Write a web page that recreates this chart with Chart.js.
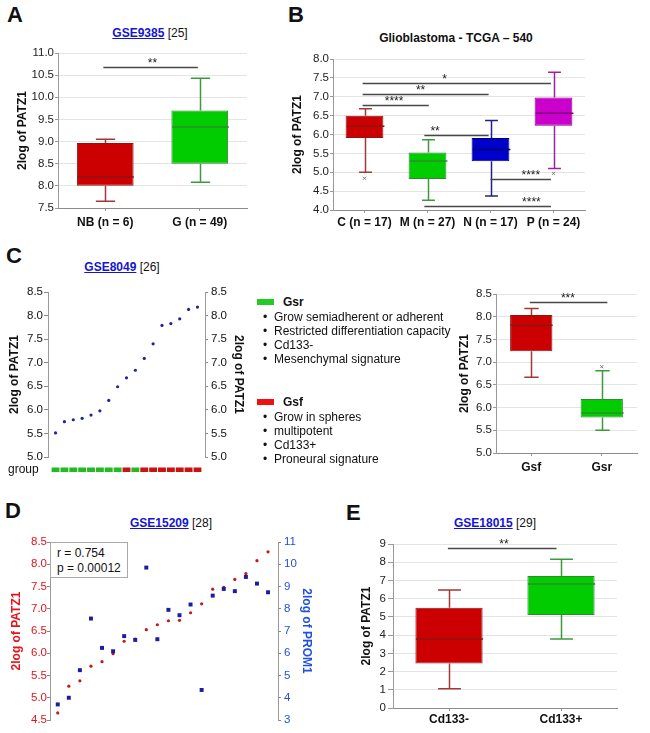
<!DOCTYPE html>
<html>
<head>
<meta charset="utf-8">
<script src="https://cdn.jsdelivr.net/npm/chart.js@4.4.0/dist/chart.umd.min.js"></script>
<style>
  body { margin: 0; background: #fff; font-family: "Liberation Sans", Arial, Helvetica, sans-serif; color: #111; }
  #fig { position: relative; width: 650px; height: 733px; overflow: hidden; }
  #fig canvas, .abs { position: absolute; }
  .letter { font-weight: bold; font-size: 22px; line-height: 22px; }
  .ttl { font-size: 12px; line-height: 14px; white-space: nowrap; transform: translate(-50%, -50%); }
  .ttl a { color: #1414d4; font-weight: bold; text-decoration: underline; }
  .txt { font-size: 12px; line-height: 14px; white-space: nowrap; transform: translateY(-50%); }
  .swatch { height: 6px; width: 17px; }
  .stats { border: 1px solid #aaa; background: #fff; font-size: 12px; line-height: 14.5px; padding: 3px 6px; box-sizing: border-box; }
</style>
</head>
<body>
<div id="fig">
  <div class="abs letter" style="left:7px;top:4px">A</div>
  <div class="abs letter" style="left:288px;top:4px">B</div>
  <div class="abs letter" style="left:6px;top:245px">C</div>
  <div class="abs letter" style="left:5px;top:500px">D</div>
  <div class="abs letter" style="left:346px;top:502px">E</div>

  <div class="abs ttl" style="left:150px;top:33px"><a>GSE9385</a> [25]</div>
  <div class="abs ttl" style="left:456px;top:38px;font-weight:bold">Glioblastoma - TCGA – 540</div>
  <div class="abs ttl" style="left:122px;top:267px"><a>GSE8049</a> [26]</div>
  <div class="abs ttl" style="left:171px;top:523px"><a>GSE15209</a> [28]</div>
  <div class="abs ttl" style="left:495px;top:523px"><a>GSE18015</a> [29]</div>

  <canvas id="chartA" width="262" height="190" style="left:0;top:44px"></canvas>
  <canvas id="chartB" width="315" height="185" style="left:285px;top:50px"></canvas>
  <canvas id="chartC" width="252" height="200" style="left:0;top:282px"></canvas>
  <canvas id="chartC2" width="210" height="195" style="left:440px;top:285px"></canvas>
  <canvas id="chartD" width="330" height="200" style="left:0;top:532px"></canvas>
  <canvas id="chartE" width="300" height="198" style="left:340px;top:535px"></canvas>

  <div class="abs txt" style="left:8px;top:469px">group</div>

  <div class="abs swatch" style="left:257px;top:299px;background:#22cc22"></div>
  <div class="abs txt" style="left:283px;top:302px;font-weight:bold">Gsr</div>
  <div class="abs txt" style="left:263px;top:317px">•</div><div class="abs txt" style="left:274px;top:317px">Grow semiadherent or adherent</div>
  <div class="abs txt" style="left:263px;top:331px">•</div><div class="abs txt" style="left:274px;top:331px">Restricted differentiation capacity</div>
  <div class="abs txt" style="left:263px;top:345px">•</div><div class="abs txt" style="left:274px;top:345px">Cd133-</div>
  <div class="abs txt" style="left:263px;top:359px">•</div><div class="abs txt" style="left:274px;top:359px">Mesenchymal signature</div>

  <div class="abs swatch" style="left:257px;top:399px;background:#ee1111"></div>
  <div class="abs txt" style="left:283px;top:402px;font-weight:bold">Gsf</div>
  <div class="abs txt" style="left:263px;top:417px">•</div><div class="abs txt" style="left:274px;top:417px">Grow in spheres</div>
  <div class="abs txt" style="left:263px;top:431px">•</div><div class="abs txt" style="left:274px;top:431px">multipotent</div>
  <div class="abs txt" style="left:263px;top:445px">•</div><div class="abs txt" style="left:274px;top:445px">Cd133+</div>
  <div class="abs txt" style="left:263px;top:459px">•</div><div class="abs txt" style="left:274px;top:459px">Proneural signature</div>

  <div class="abs stats" style="left:50px;top:542px;width:78px;height:36px">r = 0.754<br>p = 0.00012</div>
</div>

<script>
Chart.defaults.font.family = '"Liberation Sans", Arial, Helvetica, sans-serif';
Chart.defaults.color = "#111";
Chart.defaults.animation = false;

// A: GSE9385
const aLabels = ["NB (n = 6)", "G (n = 49)"];
const aMin = [7.65, 8.08];
const aQ1 = [8.0, 8.5];
const aMed = [8.2, 9.33];
const aQ3 = [8.97, 9.7];
const aMax = [9.05, 10.43];
const aColors = ["red", "green"];
const aSigFrom = [-0.02];
const aSigTo = [0.98];
const aSigY = [10.68];
const aSigText = ["**"];
const aSigAt = [0.5];

// B: Glioblastoma TCGA subtypes
const bLabels = ["C (n = 17)", "M (n = 27)", "N (n = 17)", "P (n = 24)"];
const bMin = [5.0, 4.26, 4.37, 5.1];
const bQ1 = [5.91, 4.82, 5.29, 6.23];
const bMed = [6.22, 5.3, 5.6, 6.56];
const bQ3 = [6.5, 5.52, 5.91, 6.98];
const bMax = [6.68, 5.86, 6.37, 7.65];
const bColors = ["red", "green", "blue", "magenta"];
const bOutIdx = [0, 3];
const bOutVal = [4.84, 4.97];
const bSigFrom = [-0.03, -0.03, -0.03, 0.95, 2.0, 0.95];
const bSigTo = [2.96, 1.97, 1.02, 1.97, 2.96, 2.96];
const bSigY = [7.36, 7.07, 6.78, 5.99, 4.82, 4.11];
const bSigText = ["*", "**", "****", "**", "****", "****"];
const bSigAt = [1.27, 0.89, 0.47, 1.12, 2.64, 2.65];

// C: GSE8049 samples sorted by PATZ1
const cPatz = [5.51, 5.75, 5.79, 5.82, 5.89, 5.98, 6.2, 6.49, 6.68, 6.84, 7.09, 7.4, 7.79, 7.83, 7.93, 8.13, 8.18];
const cGroup = ["Gsr", "Gsr", "Gsr", "Gsr", "Gsr", "Gsr", "Gsr", "Gsr", "Gsf", "Gsr", "Gsf", "Gsf", "Gsf", "Gsf", "Gsf", "Gsf", "Gsf"];

// C right: box plot Gsf vs Gsr
const c2Labels = ["Gsf", "Gsr"];
const c2Min = [6.67, 5.5];
const c2Q1 = [7.24, 5.78];
const c2Med = [7.81, 5.88];
const c2Q3 = [8.04, 6.19];
const c2Max = [8.18, 6.81];
const c2Colors = ["red", "green"];
const c2OutIdx = [1];
const c2OutVal = [6.9];
const c2SigFrom = [-0.02];
const c2SigTo = [1.08];
const c2SigY = [8.33];
const c2SigText = ["***"];
const c2SigAt = [0.52];

// D: GSE15209 PATZ1 vs PROM1
const dPatz = [4.66, 5.26, 5.38, 5.71, 5.81, 5.99, 6.27, 6.32, 6.53, 6.64, 6.73, 6.74, 6.91, 7.11, 7.44, 7.48, 7.66, 7.79, 8.08, 8.28];
const dProm = [3.7, 4.0, 5.24, 7.56, 6.24, 6.09, 6.77, 6.6, 9.85, 6.63, 7.95, 7.71, 8.19, 4.35, 8.59, 8.89, 8.79, 9.43, 9.13, 8.74];

// E: GSE18015
const eLabels = ["Cd133-", "Cd133+"];
const eMin = [1.06, 3.78];
const eQ1 = [2.44, 5.11];
const eMed = [3.78, 6.8];
const eQ3 = [5.5, 7.24];
const eMax = [6.47, 8.16];
const eColors = ["red", "green"];
const eSigFrom = [-0.01];
const eSigTo = [0.96];
const eSigY = [8.78];
const eSigText = ["**"];
const eSigAt = [0.49];

const palette = {
    red: { fill: "#cc0000", line: "#8e1414", whisker: "#a23838" },
    green: { fill: "#00cc00", line: "#2e8c2e", whisker: "#3c9a3c" },
    blue: { fill: "#0000cc", line: "#000072", whisker: "#20208a" },
    magenta: { fill: "#cc00cc", line: "#7e007e", whisker: "#a020a0" }
};

function boxExtras(o) {
    return {
        id: "boxExtras",
        afterDatasetsDraw(chart) {
            const { ctx, scales: { x, y } } = chart;
            const bars = chart.getDatasetMeta(0).data;
            ctx.save();
            o.labels.forEach((_, i) => {
                const cx = Math.round(x.getPixelForValue(i)) + 0.5;
                const w = bars[i].width;
                const cap = w * 0.17;
                const pal = palette[o.colors[i]];
                const yQ3 = y.getPixelForValue(o.q3[i]), yHi = y.getPixelForValue(o.max[i]);
                const yQ1 = y.getPixelForValue(o.q1[i]), yLo = y.getPixelForValue(o.min[i]);
                ctx.strokeStyle = pal.whisker;
                ctx.lineWidth = 1.5;
                ctx.beginPath();
                ctx.moveTo(cx, yQ3); ctx.lineTo(cx, yHi);
                ctx.moveTo(cx - cap, yHi); ctx.lineTo(cx + cap, yHi);
                ctx.moveTo(cx, yQ1); ctx.lineTo(cx, yLo);
                ctx.moveTo(cx - cap, yLo); ctx.lineTo(cx + cap, yLo);
                ctx.stroke();
                const ym = y.getPixelForValue(o.med[i]);
                ctx.strokeStyle = pal.line;
                ctx.beginPath();
                ctx.moveTo(cx - w / 2, ym); ctx.lineTo(cx + w / 2, ym);
                ctx.stroke();
            });
            // outliers as tiny crosses
            ctx.strokeStyle = "#777";
            ctx.lineWidth = 1;
            (o.outIdx || []).forEach((k, j) => {
                const px = x.getPixelForValue(k), py = y.getPixelForValue(o.outVal[j]);
                ctx.beginPath();
                ctx.moveTo(px - 1.5, py - 1.5); ctx.lineTo(px + 1.5, py + 1.5);
                ctx.moveTo(px + 1.5, py - 1.5); ctx.lineTo(px - 1.5, py + 1.5);
                ctx.stroke();
            });
            ctx.restore();
        }
    };
}

function sigLines(o) {
    return {
        id: "sigLines",
        afterDraw(chart) {
            const { ctx, scales: { x, y } } = chart;
            ctx.save();
            ctx.strokeStyle = "#484848";
            ctx.lineWidth = 1.3;
            ctx.fillStyle = "#222";
            ctx.font = '12px "Liberation Sans", Arial, sans-serif';
            ctx.textAlign = "center";
            ctx.textBaseline = "alphabetic";
            o.sigFrom.forEach((f, i) => {
                const py = Math.round(y.getPixelForValue(o.sigY[i])) + 0.5;
                ctx.beginPath();
                ctx.moveTo(x.getPixelForValue(f), py);
                ctx.lineTo(x.getPixelForValue(o.sigTo[i]), py);
                ctx.stroke();
                ctx.fillText(o.sigText[i], x.getPixelForValue(o.sigAt[i]), py - 1);
            });
            ctx.restore();
        }
    };
}

function boxChart(id, o) {
    return new Chart(document.getElementById(id), {
        type: "bar",
        data: {
            labels: o.labels,
            datasets: [{
                data: o.labels.map((_, i) => [o.q1[i], o.q3[i]]),
                backgroundColor: o.colors.map(c => palette[c].fill),
                borderColor: o.colors.map(c => palette[c].line),
                borderWidth: 1,
                borderSkipped: false,
                barPercentage: 0.6,
                categoryPercentage: 1
            }]
        },
        options: {
            responsive: false,
            devicePixelRatio: 1,
            layout: { padding: { left: 0, top: o.padTop, right: o.padRight, bottom: 0 } },
            plugins: { legend: { display: false }, tooltip: { enabled: false } },
            scales: {
                x: {
                    grid: { drawOnChartArea: false, offset: false, tickLength: 3, tickColor: "#999" },
                    border: { color: "#8c8c8c" },
                    ticks: { font: { size: 12, weight: "bold" }, padding: o.xPad, color: "#111" },
                    afterFit: s => { s.height = o.xHeight; }
                },
                y: {
                    min: o.min0,
                    max: o.max0,
                    ticks: {
                        stepSize: o.step,
                        font: { size: 11.5 },
                        padding: o.yPad,
                        color: "#222",
                        callback: v => o.step < 1 ? v.toFixed(1) : v
                    },
                    grid: { color: "#e4e4e4", tickLength: o.yTick, tickColor: "#999" },
                    border: { color: "#999" },
                    title: { display: true, text: "2log of PATZ1", font: { size: 12, weight: "bold" }, color: "#111", padding: { top: o.titlePad, bottom: 0 } },
                    afterFit: s => { s.width = o.yWidth; }
                }
            }
        },
        plugins: [boxExtras(o), sigLines(o)]
    });
}

boxChart("chartA", {
    labels: aLabels, min: aMin, q1: aQ1, med: aMed, q3: aQ3, max: aMax, colors: aColors,
    sigFrom: aSigFrom, sigTo: aSigTo, sigY: aSigY, sigText: aSigText, sigAt: aSigAt,
    min0: 7.5, max0: 11, step: 0.5,
    padTop: 9, padRight: 15, xHeight: 26, xPad: 4.5, yWidth: 58, yPad: 1, yTick: 3, titlePad: 15
});

boxChart("chartB", {
    labels: bLabels, min: bMin, q1: bQ1, med: bMed, q3: bQ3, max: bMax, colors: bColors,
    outIdx: bOutIdx, outVal: bOutVal,
    sigFrom: bSigFrom, sigTo: bSigTo, sigY: bSigY, sigText: bSigText, sigAt: bSigAt,
    min0: 4, max0: 8, step: 0.5,
    padTop: 9, padRight: 15, xHeight: 25, xPad: 2.5, yWidth: 48, yPad: 1, yTick: 3, titlePad: 5
});

boxChart("chartC2", {
    labels: c2Labels, min: c2Min, q1: c2Q1, med: c2Med, q3: c2Q3, max: c2Max, colors: c2Colors,
    outIdx: c2OutIdx, outVal: c2OutVal,
    sigFrom: c2SigFrom, sigTo: c2SigTo, sigY: c2SigY, sigText: c2SigText, sigAt: c2SigAt,
    min0: 5, max0: 8.5, step: 0.5,
    padTop: 9, padRight: 13, xHeight: 27, xPad: 4.5, yWidth: 56, yPad: 1, yTick: 3, titlePad: 17
});

boxChart("chartE", {
    labels: eLabels, min: eMin, q1: eQ1, med: eMed, q3: eQ3, max: eMax, colors: eColors,
    sigFrom: eSigFrom, sigTo: eSigTo, sigY: eSigY, sigText: eSigText, sigAt: eSigAt,
    min0: 0, max0: 9, step: 1,
    padTop: 9, padRight: 23, xHeight: 25, xPad: 1.5, yWidth: 53, yPad: 2, yTick: 5, titlePad: 19
});

// group strip below the sorted samples of C
const groupStrip = {
    id: "groupStrip",
    afterDraw(chart) {
        const { ctx, scales: { x } } = chart;
        const top = chart.chartArea.bottom + 10.5;
        ctx.save();
        cGroup.forEach((g, i) => {
            const l = x.getPixelForValue(i - 0.5), r = x.getPixelForValue(i + 0.5);
            ctx.fillStyle = g === "Gsf" ? "#cc1111" : "#22bb22";
            ctx.fillRect(l + 0.5, top, r - l - 1, 4.5);
        });
        ctx.restore();
    }
};

function sideAxis(pos, width, titleText, titlePad, color, min, max, step, tl, pad) {
    return {
        position: pos,
        min: min,
        max: max,
        ticks: { stepSize: step, font: { size: 11.5 }, color: color, padding: pad, callback: v => step < 1 ? v.toFixed(1) : v },
        grid: { drawOnChartArea: false, tickLength: tl, tickColor: "#888" },
        border: { color: "#999" },
        title: { display: true, text: titleText, color: color, font: { size: 12, weight: "bold" }, padding: { top: titlePad, bottom: 0 } },
        afterFit: s => { s.width = width; }
    };
}

new Chart(document.getElementById("chartC"), {
    type: "scatter",
    data: {
        datasets: [{
            data: cPatz.map((v, i) => ({ x: i, y: v })),
            pointRadius: 1.6,
            pointBorderWidth: 0,
            pointBackgroundColor: "#22229c"
        }]
    },
    options: {
        responsive: false,
        devicePixelRatio: 1,
        layout: { padding: { left: 0, top: 10, right: 0, bottom: 25 } },
        plugins: { legend: { display: false }, tooltip: { enabled: false } },
        scales: {
            x: { type: "linear", min: -0.85, max: 16.85, display: false },
            y: sideAxis("left", 48, "2log of PATZ1", 7, "#111", 5, 8.5, 0.5, 4, 1),
            y2: sideAxis("right", 47, "2log of PATZ1", 6, "#111", 5, 8.5, 0.5, 3, 3)
        }
    },
    plugins: [groupStrip]
});

new Chart(document.getElementById("chartD"), {
    type: "scatter",
    data: {
        datasets: [{
            data: dProm.map((v, i) => ({ x: i, y: v })),
            yAxisID: "y2",
            pointStyle: "rect",
            pointRadius: 2.8,
            pointBorderWidth: 0,
            pointBackgroundColor: "#1c1ca0"
        }, {
            data: dPatz.map((v, i) => ({ x: i, y: v })),
            yAxisID: "y",
            pointRadius: 1.6,
            pointBorderWidth: 0,
            pointBackgroundColor: "#c41818"
        }]
    },
    options: {
        responsive: false,
        devicePixelRatio: 1,
        layout: { padding: { left: 0, top: 10, right: 0, bottom: 12 } },
        plugins: { legend: { display: false }, tooltip: { enabled: false } },
        scales: {
            x: { type: "linear", min: -0.7, max: 19.9, display: false },
            y: sideAxis("left", 50, "2log of PATZ1", 9, "#e3141c", 4.5, 8.5, 0.5, 3, 0),
            y2: sideAxis("right", 52, "2log of PROM1", 16, "#2150e0", 3, 11, 1, 3, 3)
        }
    }
});
</script>
</body>
</html>
